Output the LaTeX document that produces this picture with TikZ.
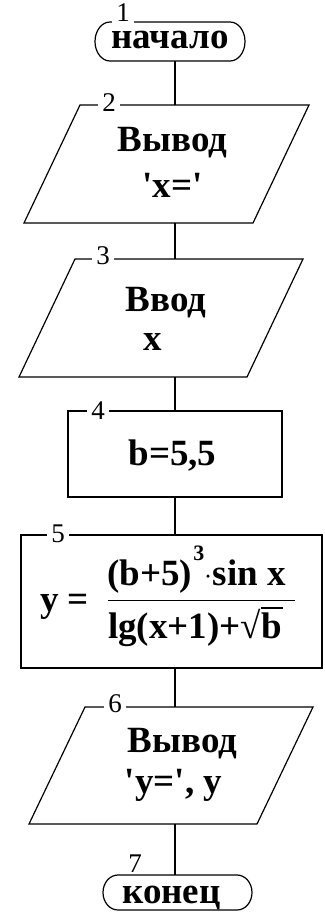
\documentclass[tikz,border=0pt]{standalone}
\usepackage{fontspec}
\setmainfont{Liberation Serif}
\begin{document}
\begin{tikzpicture}[x=1pt,y=1pt,
  blk/.style={draw=black, line width=1.2pt, line join=miter},
  conn/.style={draw=black, line width=1.2pt},
  lbl/.style={fill=white, inner xsep=4pt, inner ysep=1.5pt, font=\fontsize{27}{27}\selectfont},
  txt/.style={anchor=base, inner sep=0pt, font=\fontsize{37}{40}\selectfont\bfseries},
  sup/.style={anchor=base west, inner sep=0pt, font=\fontsize{22}{22}\selectfont\bfseries}]
\useasboundingbox (0,0) rectangle (324,-912);

% connection points
\coordinate (t1b) at (175,-61);
\coordinate (p2t) at (175,-105);
\coordinate (p2b) at (175,-223);
\coordinate (p3t) at (175,-259);
\coordinate (p3b) at (175,-377);
\coordinate (r4t) at (175,-411);
\coordinate (r4b) at (175,-497);
\coordinate (r5t) at (175,-535);
\coordinate (r5b) at (175,-668);
\coordinate (p6t) at (175,-707);
\coordinate (p6b) at (175,-824);
\coordinate (t7t) at (175,-875);

% connectors
\draw[conn] (t1b) -- (p2t);
\draw[conn] (p2b) -- (p3t);
\draw[conn] (p3b) -- (r4t);
\draw[conn] (r4b) -- (r5t);
\draw[conn] (r5b) -- (p6t);
\draw[conn] (p6b) -- (t7t);

% 1 terminator
\draw[blk] (110,-22) -- (230,-22) arc[start angle=90,end angle=-90,x radius=15,y radius=19.5]
  -- (110,-61) arc[start angle=270,end angle=90,x radius=15,y radius=19.5] -- cycle;
\node[txt] (s1) at (170,-49) {начало};
\node[lbl] (l1) at (123,-13) {1};

% 2 output
\draw[blk] (24,-223) -- (80,-105) -- (309,-105) -- (253,-223) -- cycle;
\node[txt] (s2a) at (172.5,-152) {Вывод};
\node[txt] (s2b) at (172.5,-197) {\textquotesingle x=\textquotesingle};
\node[lbl] (l2) at (109,-103) {2};

% 3 input
\draw[blk] (19,-377) -- (75,-259) -- (303,-259) -- (247,-377) -- cycle;
\node[txt] (s3a) at (166,-311) {Ввод};
\node[txt] (s3b) at (152.5,-350) {x};
\node[lbl] (l3) at (103,-256) {3};

% 4 process
\draw[blk] (68,-411) rectangle (282,-497);
\node[txt] (s4) at (172.5,-465) {b=5,5};
\node[lbl] (l4) at (98,-411) {4};

% 5 process (formula)
\draw[blk] (21,-535) rectangle (322,-668);
\node[txt, anchor=base west] (s5y) at (40,-611) {y =};
\node[txt, anchor=base west] (s5n) at (107,-585) {(b+5)};
\node[sup] (s5e) at (s5n.base east) [yshift=25pt, xshift=1pt] {3};
\node[circle, fill=black, inner sep=0pt, minimum size=3.5pt] (s5dot) at (208,-576) {};
\node[txt, anchor=base east] (s5s) at (286,-585) {sin x};
\draw[conn] (108,-600.5) -- (295,-600.5);
\node[txt, anchor=base west] (s5d) at (108,-638) {lg(x+1)+√b};
\draw[conn] (s5d.base east) ++(-21,30) -- ++(22,0);
\node[lbl] (l5) at (58,-533.5) {5};

% 6 output
\draw[blk] (29,-824) -- (85,-707) -- (313,-707) -- (257,-824) -- cycle;
\node[txt] (s6a) at (182.5,-752) {Вывод};
\node[txt] (s6b) at (173.5,-793) {\textquotesingle y=\textquotesingle, y};
\node[lbl] (l6) at (115,-704) {6};

% 7 terminator
\draw[blk] (118,-875) -- (237,-875) arc[start angle=90,end angle=-90,x radius=15,y radius=17.5]
  -- (118,-910) arc[start angle=270,end angle=90,x radius=15,y radius=17.5] -- cycle;
\node[txt] (s7) at (171.5,-903) {конец};
\node[lbl] (l7) at (135,-864) {7};
\end{tikzpicture}
\end{document}
